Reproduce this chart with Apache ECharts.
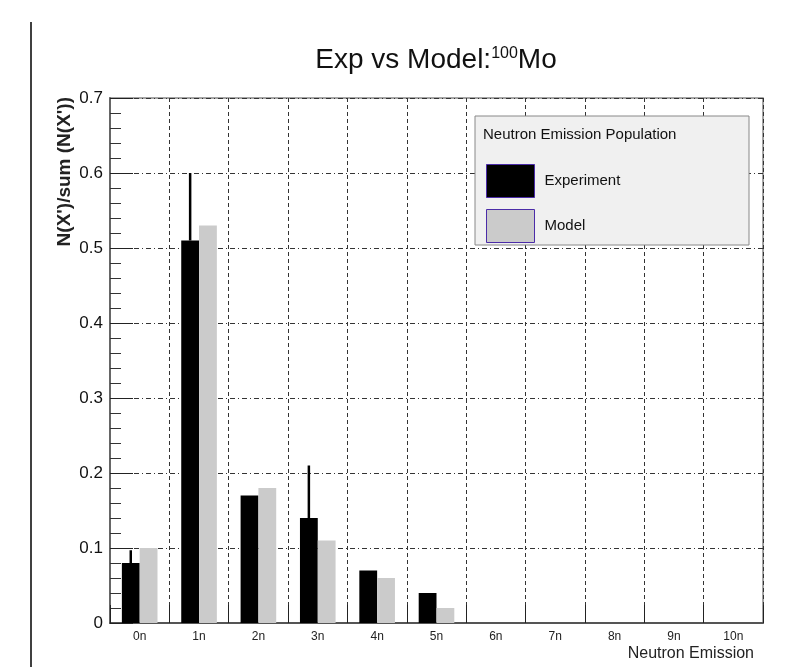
<!DOCTYPE html>
<html><head><meta charset="utf-8">
<script src="https://cdn.jsdelivr.net/npm/echarts@6/dist/echarts.min.js"></script>
<style>html,body{margin:0;padding:0;background:#fff}#c{width:803px;height:667px}</style>
</head><body><div id="c"></div>
<script>
const categories = ['0n','1n','2n','3n','4n','5n','6n','7n','8n','9n','10n'];
const expValues = [0.08, 0.51, 0.17, 0.14, 0.07, 0.04, 0, 0, 0, 0, 0];
const modelValues = [0.10, 0.53, 0.18, 0.11, 0.06, 0.02, 0, 0, 0, 0, 0];
const expErrHigh = [0.097, 0.60, null, 0.21, null, null, null, null, null, null, null];
const yTicks = [0, 0.1, 0.2, 0.3, 0.4, 0.5, 0.6, 0.7];

const FONT = '"Liberation Sans",Arial,sans-serif';
const errData = [];
expErrHigh.forEach((h, i) => { if (h != null) errData.push([i, expValues[i], h]); });

const chart = echarts.init(document.getElementById('c'));
chart.setOption({
  backgroundColor: '#fff',
  animation: false,
  title: [{
    text: '{a|Exp vs Model:}{s|100}{a|Mo}',
    left: 436, top: 46, textAlign: 'center', padding: 0,
    textStyle: {
      fontWeight: 'normal',
      rich: {
        a: { fontFamily: FONT, fontSize: 28, fontWeight: 'normal', color: '#111' },
        s: { fontFamily: FONT, fontSize: 16, fontWeight: 'normal', color: '#111', verticalAlign: 'top', padding: [0, 0, 13, 0] }
      }
    }, z: 20
  }, {
    text: 'Neutron Emission Population',
    left: 483, top: 127, padding: 0,
    textStyle: { fontFamily: FONT, fontSize: 15, fontWeight: 'normal', color: '#111' }, z: 20
  }],
  legend: {
    orient: 'vertical', left: 486, top: 164, padding: 0,
    itemWidth: 48, itemHeight: 33, itemGap: 11, icon: 'rect',
    data: ['Experiment', 'Model'],
    itemStyle: { borderColor: '#4b2ca8', borderWidth: 1 },
    textStyle: { fontFamily: FONT, fontSize: 15, color: '#111', padding: [0, 0, 0, 5] },
    z: 20, selectedMode: false
  },
  grid: { left: 110, right: 40, top: 98, bottom: 44, show: true, borderColor: '#888', borderWidth: 1.5 },
  xAxis: {
    type: 'category', data: categories, boundaryGap: true,
    axisLine: { lineStyle: { color: '#555', width: 2 } },
    axisTick: { show: true, inside: true, length: 18, lineStyle: { color: '#222' } },
    axisLabel: { fontFamily: FONT, fontSize: 12, color: '#222', margin: 8 },
    splitLine: { show: true, lineStyle: { color: '#333', width: 1, type: [4, 3] } }
  },
  yAxis: {
    type: 'value', min: 0, max: 0.7, interval: 0.1,
    axisLine: { show: true, lineStyle: { color: '#666', width: 2 } },
    axisTick: { show: true, inside: true, length: 23, lineStyle: { color: '#222' } },
    minorTick: { show: true, splitNumber: 5, length: 11, lineStyle: { color: '#333' } },
    axisLabel: { fontFamily: FONT, fontSize: 17, color: '#111', margin: 7,
      formatter: v => { const t = yTicks.find(y => Math.abs(y - v) < 1e-9); return t === undefined ? '' : String(t); } },
    splitLine: { show: true, lineStyle: { color: '#333', width: 1, type: [5, 3, 1, 3] } }
  },
  series: [{
    name: 'Experiment', type: 'bar', data: expValues, barWidth: '30%', barGap: '0%',
    itemStyle: { color: '#000' }, z: 3
  }, {
    name: 'Model', type: 'bar', data: modelValues, barWidth: '30%',
    itemStyle: { color: '#cbcbcb' }, z: 3
  }, {
    name: 'err', type: 'custom', data: errData, encode: { x: 0, y: [1, 2] }, z: 4,
    renderItem: (params, api) => {
      const i = api.value(0);
      const lo = api.coord([i, api.value(1)]);
      const hi = api.coord([i, api.value(2)]);
      const band = api.size([1, 0])[0];
      const x = lo[0] - band * 0.15;
      return { type: 'line', shape: { x1: x, y1: lo[1], x2: x, y2: hi[1] }, style: { stroke: '#000', lineWidth: 2.5 } };
    }
  }],
  graphic: [
    { type: 'rect', shape: { x: 475, y: 116, width: 274, height: 129 }, style: { fill: '#f0f0f0', stroke: '#888', lineWidth: 1 }, z: 10 },
    { type: 'line', shape: { x1: 31, y1: 22, x2: 31, y2: 667 }, style: { stroke: '#000', lineWidth: 1.5 }, z: 10 },
    { type: 'text', x: 65, y: 97, rotation: Math.PI / 2,
      style: { text: "N(X')/sum (N(X'))", fontFamily: FONT, fontSize: 19, fontWeight: 'bold', fill: '#222', align: 'right', verticalAlign: 'middle' }, z: 10 },
    { type: 'text', x: 754, y: 654,
      style: { text: 'Neutron Emission', fontFamily: FONT, fontSize: 16, fill: '#222', align: 'right', verticalAlign: 'middle' }, z: 10 }
  ]
});
</script></body></html>
